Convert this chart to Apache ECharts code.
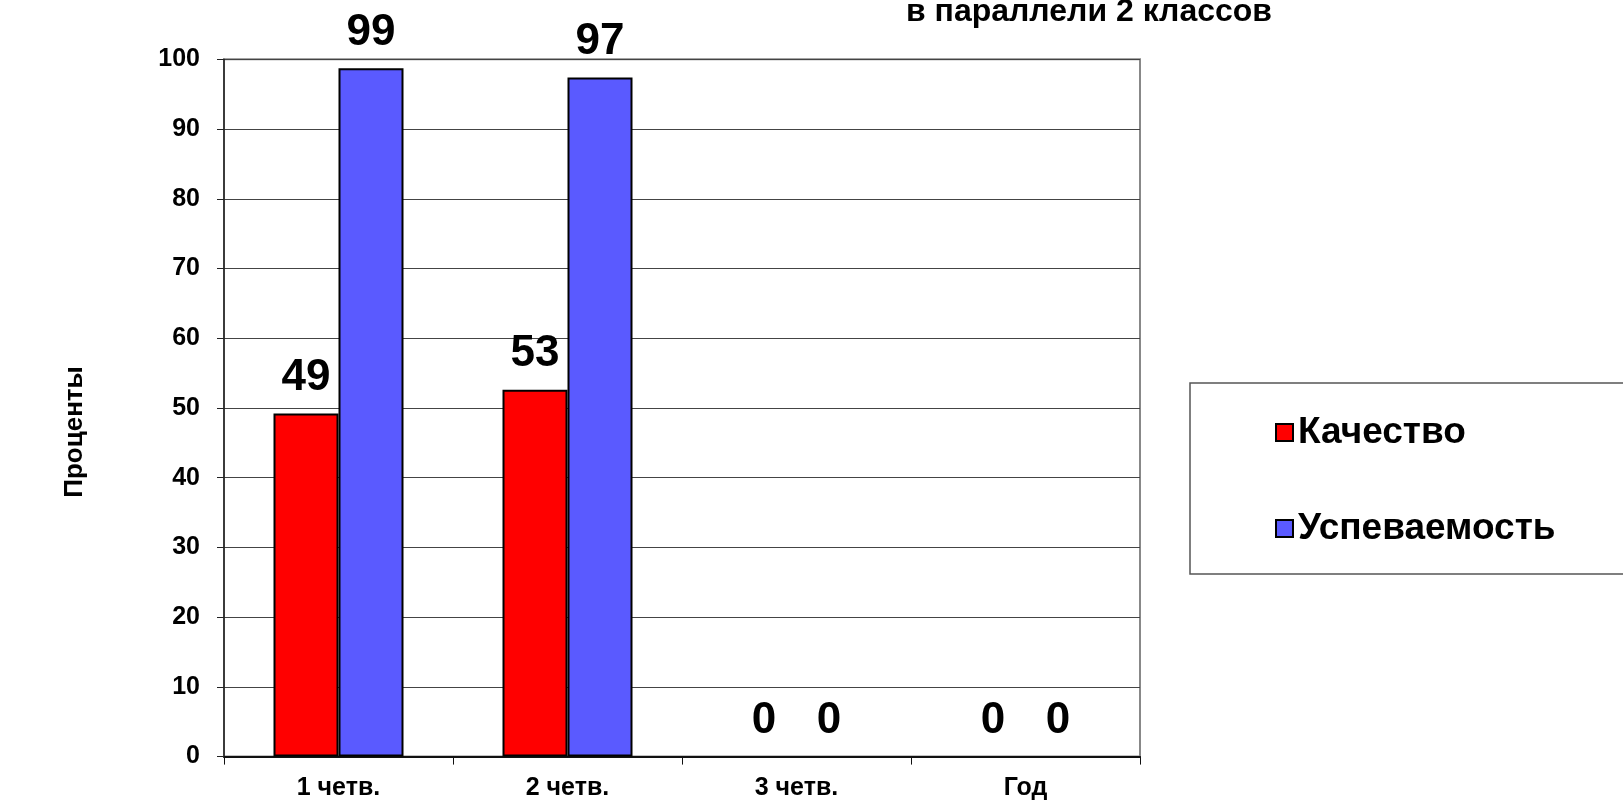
<!DOCTYPE html>
<html>
<head>
<meta charset="utf-8">
<script src="https://cdn.jsdelivr.net/npm/echarts@6/dist/echarts.min.js"></script>
<style>
  html, body { margin: 0; padding: 0; background: #fff; }
  #chart { width: 1623px; height: 803px; }
</style>
</head>
<body>
<div id="chart"></div>
<script>
// данные диаграммы
var categories = ['1 четв.', '2 четв.', '3 четв.', 'Год']
var legendNames = ['Качество', 'Успеваемость']
var quality = [49.2, 52.6, 0, 0]
var progress = [98.7, 97.4, 0, 0]
var yTicks = [0, 10, 20, 30, 40, 50, 60, 70, 80, 90, 100]

var font = 'Arial, "Liberation Sans", sans-serif'
var chart = echarts.init(document.getElementById('chart'))

var labelStyle = {
  show: true,
  position: 'top',
  distance: 14,
  fontFamily: font,
  fontWeight: 'bold',
  fontSize: 44,
  color: '#000',
  formatter: function (p) { return Math.round(p.value) }
}

// нулевые столбцы без рамки
function toItems (arr) {
  return arr.map(function (v) {
    return v === 0 ? { value: v, itemStyle: { borderWidth: 0 } } : v
  })
}

var option = {
  animation: false,
  title: {
    text: 'в параллели 2 классов',
    left: 906,
    top: -4,
    padding: 0,
    textStyle: { fontFamily: font, fontWeight: 'bold', fontSize: 32, color: '#000' }
  },
  graphic: [
    {
      type: 'text',
      x: 75,
      y: 432,
      rotation: Math.PI / 2,
      style: {
        text: 'Проценты',
        fontFamily: font,
        fontWeight: 'bold',
        fontSize: 26,
        fill: '#000',
        align: 'center',
        verticalAlign: 'middle'
      }
    }
  ],
  legend: {
    orient: 'vertical',
    left: 1190,
    top: 383,
    padding: [31, 120, 27, 85],
    itemGap: 59,
    itemWidth: 17,
    itemHeight: 17,
    icon: 'rect',
    borderColor: '#555',
    borderWidth: 1.5,
    data: legendNames,
    textStyle: { fontFamily: font, fontWeight: 'bold', fontSize: 37, color: '#000' }
  },
  grid: {
    left: 224,
    right: 483,
    top: 59.3,
    bottom: 46.4,
    show: true,
    borderColor: '#888',
    borderWidth: 2
  },
  xAxis: {
    type: 'category',
    data: categories,
    axisLine: { show: true, lineStyle: { color: '#111', width: 2 } },
    axisTick: { show: true, length: 8, lineStyle: { color: '#111', width: 1 } },
    axisLabel: {
      margin: 19,
      fontFamily: font,
      fontWeight: 'bold',
      fontSize: 25,
      color: '#000'
    }
  },
  yAxis: {
    type: 'value',
    min: yTicks[0],
    max: yTicks[yTicks.length - 1],
    interval: 10,
    axisLine: { show: true, lineStyle: { color: '#222', width: 1.5 } },
    axisTick: { show: true, length: 7, lineStyle: { color: '#222' } },
    splitLine: { show: true, lineStyle: { color: '#444', width: 1 } },
    axisLabel: {
      margin: 24,
      fontFamily: font,
      fontWeight: 'bold',
      fontSize: 25,
      color: '#000'
    }
  },
  series: [
    {
      name: legendNames[0],
      type: 'bar',
      barWidth: 65,
      barGap: '0%',
      itemStyle: { color: '#ff0000', borderColor: '#000', borderWidth: 2 },
      label: labelStyle,
      data: toItems(quality)
    },
    {
      name: legendNames[1],
      type: 'bar',
      barWidth: 65,
      barGap: '0%',
      itemStyle: { color: '#5a5aff', borderColor: '#000', borderWidth: 2 },
      label: labelStyle,
      data: toItems(progress)
    }
  ]
}

chart.setOption(option)
</script>
</body>
</html>
